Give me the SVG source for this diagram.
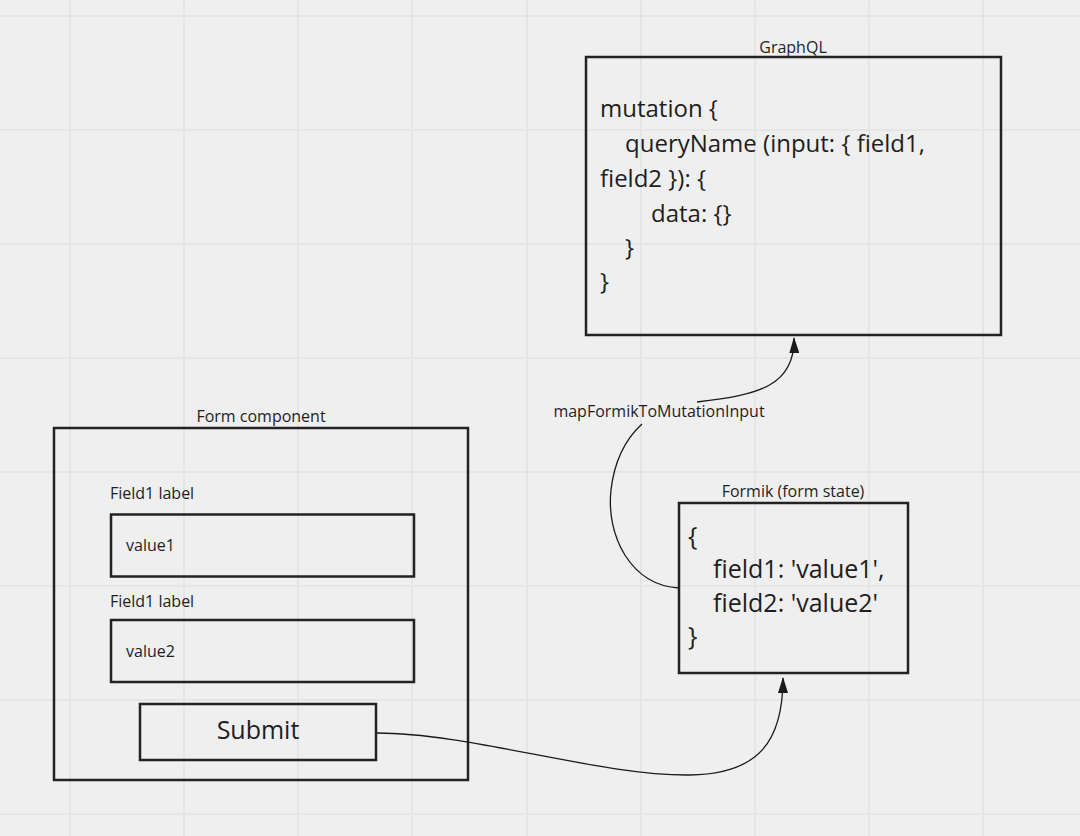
<svg xmlns="http://www.w3.org/2000/svg" width="1080" height="836" viewBox="0 0 1080 836">
<defs>
<style>
.box{fill:none;stroke:#222;stroke-width:2.5}
.t{font-family:"Open Sans","Noto Sans","Liberation Sans",sans-serif;fill:#1e1e1e}
.s{font-size:16px}
.l{font-size:24px}
.m{font-size:25px}
.c{fill:none;stroke:#1a1a1a;stroke-width:1.3}
.g{stroke:#e5e5e5;stroke-width:2}
</style>
<marker id="ae" viewBox="0 0 16 10" refX="15" refY="5" markerWidth="16" markerHeight="10" markerUnits="userSpaceOnUse" orient="auto">
<path d="M0,0 L16,5 L0,10 Z" fill="#1a1a1a"/>
</marker>
</defs>
<rect width="1080" height="836" fill="#efefef"/>
<g id="grid">
<path class="g" d="M70,0V836M184,0V836M298,0V836M412,0V836M527,0V836M641,0V836M755,0V836M869,0V836M983,0V836M0,16H1080M0,130H1080M0,244H1080M0,358H1080M0,472H1080M0,586H1080M0,700H1080M0,814H1080"/>
</g>
<g id="connectors">
<path class="c" d="M377,733 C470,733 600,776 690,775 C760,774 783,740 783,678" marker-end="url(#ae)"/>
<path class="c" d="M679,588 C630,585 606,535 611,490 C615,455 630,435 642,424"/>
<path class="c" d="M697,402 C760,395 795,385 794,338" marker-end="url(#ae)"/>
<text class="t s" x="659" y="417" text-anchor="middle">mapFormikToMutationInput</text>
</g>
<g id="graphql">
<rect class="box" x="586" y="57" width="415" height="278"/>
<text class="t s" x="793" y="53" text-anchor="middle">GraphQL</text>
<text class="t l" x="600" y="117">mutation {</text>
<text class="t l" x="625" y="152">queryName (input: { field1,</text>
<text class="t l" x="600" y="187">field2 }): {</text>
<text class="t l" x="651" y="222">data: {}</text>
<text class="t l" x="625" y="256">}</text>
<text class="t l" x="600" y="290">}</text>
</g>
<g id="formik">
<rect class="box" x="679" y="503" width="229" height="170"/>
<text class="t s" x="793" y="497" text-anchor="middle">Formik (form state)</text>
<text class="t m" x="688" y="545">{</text>
<text class="t m" x="713" y="578">field1: 'value1',</text>
<text class="t m" x="713" y="612">field2: 'value2'</text>
<text class="t m" x="688" y="645">}</text>
</g>
<g id="form-component">
<rect class="box" x="54" y="428" width="414" height="352"/>
<text class="t s" x="261" y="422" text-anchor="middle">Form component</text>
</g>
<g id="field1">
<text class="t s" x="110" y="499">Field1 label</text>
<rect class="box" x="111" y="514.5" width="303" height="62"/>
<text class="t s" x="126" y="551">value1</text>
</g>
<g id="field2">
<text class="t s" x="110" y="607">Field1 label</text>
<rect class="box" x="111" y="620" width="303" height="62"/>
<text class="t s" x="126" y="657">value2</text>
</g>
<g id="submit">
<rect class="box" x="140" y="704" width="236" height="56"/>
<text class="t m" x="258" y="739" text-anchor="middle">Submit</text>
</g>
</svg>
